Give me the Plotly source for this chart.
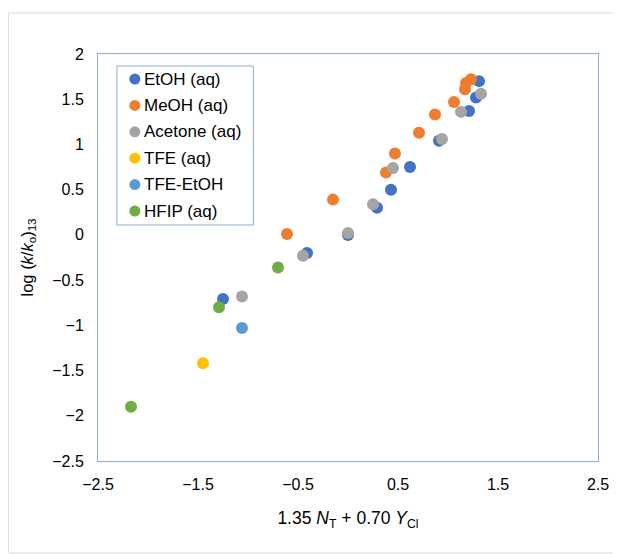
import plotly.graph_objects as go

# Data
etoh_x = [1.31, 1.28, 1.21, 0.91, 0.62, 0.43, 0.29, 0.00, -0.41, -1.25]
etoh_y = [1.70, 1.52, 1.37, 1.04, 0.75, 0.50, 0.30, 0.00, -0.20, -0.71]
meoh_x = [1.23, 1.18, 1.17, 1.06, 0.87, 0.71, 0.47, 0.38, -0.15, -0.61]
meoh_y = [1.72, 1.68, 1.61, 1.47, 1.33, 1.13, 0.90, 0.69, 0.39, 0.01]
acet_x = [1.33, 1.13, 0.94, 0.45, 0.25, 0.00, -0.45, -1.06]
acet_y = [1.56, 1.36, 1.06, 0.74, 0.34, 0.02, -0.23, -0.68]
tfe_x = [-1.45]
tfe_y = [-1.42]
tfeetoh_x = [-1.06]
tfeetoh_y = [-1.03]
hfip_x = [-0.70, -1.29, -2.17]
hfip_y = [-0.36, -0.80, -1.90]

names = ["EtOH (aq)", "MeOH (aq)", "Acetone (aq)", "TFE (aq)", "TFE-EtOH", "HFIP (aq)"]
colors = ["#4472C4", "#ED7D31", "#A5A5A5", "#FFC000", "#5B9BD5", "#70AD47"]
xs_all = [etoh_x, meoh_x, acet_x, tfe_x, tfeetoh_x, hfip_x]
ys_all = [etoh_y, meoh_y, acet_y, tfe_y, tfeetoh_y, hfip_y]

x_ticks = [-2.5, -1.5, -0.5, 0.5, 1.5, 2.5]
y_ticks = [2, 1.5, 1, 0.5, 0, -0.5, -1, -1.5, -2, -2.5]


def fmt(v):
    return f"{v:g}".replace("-", "\u2212")


fig = go.Figure()
for name, xs, ys, col in zip(names, xs_all, ys_all, colors):
    fig.add_trace(go.Scatter(
        x=xs, y=ys, mode="markers", name=name, showlegend=False,
        marker=dict(size=12, color=col, line=dict(width=0)),
    ))

axis_col = "#8FAADC"
font_family = "Liberation Sans, Arial, sans-serif"

# Page offset (browser body margin 8px) compensated in the margins
W, H = 613, 546
ML, MR, MT, MB = 90, 21, 46, 93
pw, ph = W - ML - MR, H - MT - MB


def px_to_paper_x(px):
    return (px - ML) / pw


def px_to_paper_y(py):
    return (H - MB - py) / ph


shapes = [
    dict(type="rect", xref="paper", yref="paper",
         x0=px_to_paper_x(0), x1=px_to_paper_x(612),
         y0=px_to_paper_y(545), y1=px_to_paper_y(5),
         line=dict(color="#D9D9D9", width=1), layer="below"),
    # legend box
    dict(type="rect", xref="paper", yref="paper",
         x0=px_to_paper_x(109), x1=px_to_paper_x(246),
         y0=px_to_paper_y(217), y1=px_to_paper_y(58),
         line=dict(color=axis_col, width=1), fillcolor="white", layer="above"),
]
annotations = []
for i, (name, col) in enumerate(zip(names, colors)):
    yy = px_to_paper_y(71 + 26.4 * i)
    shapes.append(dict(type="circle", xref="paper", yref="paper",
                       xsizemode="pixel", ysizemode="pixel",
                       xanchor=px_to_paper_x(127), yanchor=yy,
                       x0=-5.5, x1=5.5, y0=-5.5, y1=5.5,
                       fillcolor=col, line=dict(width=0), layer="above"))
    annotations.append(dict(xref="paper", yref="paper", x=px_to_paper_x(134), y=yy,
                            xanchor="left", yanchor="middle", showarrow=False,
                            text=name, font=dict(size=17, color="black")))

fig.update_layout(
    width=W, height=H,
    margin=dict(l=ML, r=MR, t=MT, b=MB),
    paper_bgcolor="white", plot_bgcolor="white",
    font=dict(family=font_family, size=16, color="black"),
    showlegend=False,
    xaxis=dict(
        range=[-2.5, 2.5], tickmode="array", tickvals=x_ticks,
        ticktext=[fmt(v) for v in x_ticks],
        showgrid=False, zeroline=False, showline=True, linecolor=axis_col,
        linewidth=1, mirror=True, ticks="", ticklabelstandoff=9,
        title=dict(text="1.35 <i>N</i><sub>T</sub> + 0.70 <i>Y</i><sub>Cl</sub>",
                   font=dict(size=17.5), standoff=19),
    ),
    yaxis=dict(
        range=[-2.5, 2.0], tickmode="array", tickvals=y_ticks,
        ticktext=[fmt(v) for v in y_ticks],
        showgrid=False, zeroline=False, showline=True, linecolor=axis_col,
        linewidth=1, mirror=True, ticks="", ticklabelstandoff=10,
        title=dict(text="log (<i>k</i>/<i>k</i><sub>o</sub>)<sub>13</sub>",
                   font=dict(size=16.5), standoff=14),
    ),
    shapes=shapes,
    annotations=annotations,
)

fig.write_html("out.html")
